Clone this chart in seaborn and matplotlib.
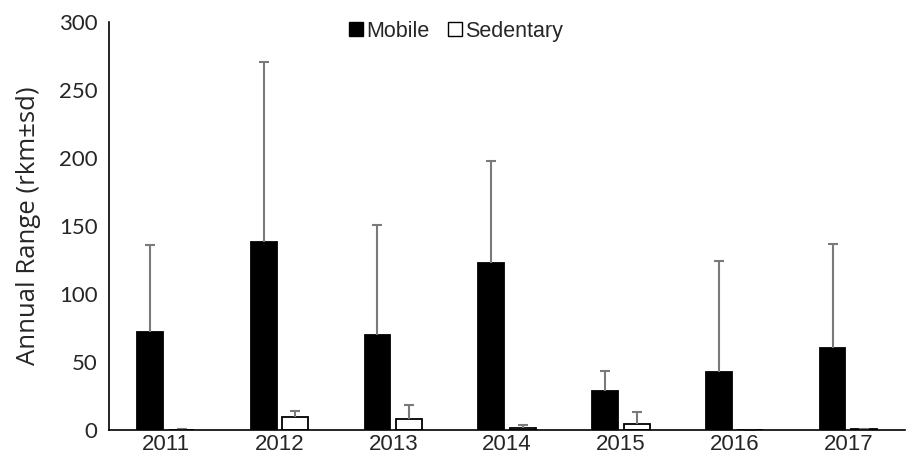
import matplotlib
matplotlib.use("Agg")
import matplotlib.pyplot as plt
from matplotlib.patches import Patch
import numpy as np
import pandas as pd
import seaborn as sns

# Annual range per year, mean and standard deviation (rkm)
years = ["2011", "2012", "2013", "2014", "2015", "2016", "2017"]
groups = ["Mobile", "Sedentary"]
mobile_mean = [71.8, 138.0, 70.1, 122.5, 28.3, 42.3, 60.3]
mobile_sd = [64.5, 132.6, 80.7, 75.1, 14.7, 82.2, 76.5]
sedentary_mean = [0.3, 9.6, 8.0, 1.3, 4.4, 0.2, 0.4]
sedentary_sd = [0.5, 4.6, 10.5, 2.2, 8.6, 0.1, 0.2]
y_ticks = [0, 50, 100, 150, 200, 250, 300]

df = pd.DataFrame({
    "Year": years * 2,
    "Group": [groups[0]] * len(years) + [groups[1]] * len(years),
    "Range": mobile_mean + sedentary_mean,
    "SD": mobile_sd + sedentary_sd,
})

sns.set_style("white")
plt.rcParams["font.family"] = ["Liberation Sans", "DejaVu Sans"]

fig = plt.figure(figsize=(9.07, 4.55), dpi=100)
ax = fig.add_axes([0.120, 0.055, 0.878, 0.897])

sns.barplot(
    data=df, x="Year", y="Range", hue="Group", order=years, hue_order=groups,
    palette={"Mobile": "black", "Sedentary": "white"},
    width=0.555, gap=0.18, errorbar=None, legend=False, ax=ax,
    edgecolor="black", linewidth=1.3,
)

# Upper-only standard deviation whiskers placed on each bar
for container, grp in zip(ax.containers, groups):
    sub = df[df["Group"] == grp].set_index("Year").loc[years]
    xs = [p.get_x() + p.get_width() / 2 for p in container.patches]
    eb = ax.errorbar(
        xs, sub["Range"].values,
        yerr=[np.zeros(len(xs)), sub["SD"].values],
        fmt="none", ecolor="#7a7a7a", elinewidth=1.5, capsize=3.8,
        capthick=1.5, zorder=1,
    )
    # hide the cap at the bar top (zero lower error)
    eb[1][0].set_visible(False)

ax.set_ylim(0, 300)
ax.set_xlim(-0.5, len(years) - 0.5)
ax.set_yticks(y_ticks)
ax.set_yticklabels([str(t) for t in y_ticks], fontfamily="Lato", fontsize=16)
ax.set_xticks(range(len(years)))
ax.set_xticklabels(years, fontsize=16)
ax.tick_params(axis="y", length=0, pad=8)
ax.tick_params(axis="x", length=0, pad=3)
ax.set_xlabel("")
ax.set_ylabel("Annual Range (rkm\u00b1sd)", fontfamily="Open Sans", fontsize=18.5, labelpad=13)

for side in ["top", "right"]:
    ax.spines[side].set_visible(False)
for side in ["left", "bottom"]:
    ax.spines[side].set_color("black")
    ax.spines[side].set_linewidth(1.2)

handles = [
    Patch(facecolor="black", edgecolor="black", label="Mobile"),
    Patch(facecolor="white", edgecolor="black", linewidth=1.0, label="Sedentary"),
]
ax.legend(
    handles=handles, loc="upper center", bbox_to_anchor=(0.436, 1.05),
    ncol=2, frameon=False, fontsize=15.5, handlelength=0.65, handleheight=0.65,
    handletextpad=0.15, columnspacing=0.85,
)

fig.savefig("out.png", dpi=100)
